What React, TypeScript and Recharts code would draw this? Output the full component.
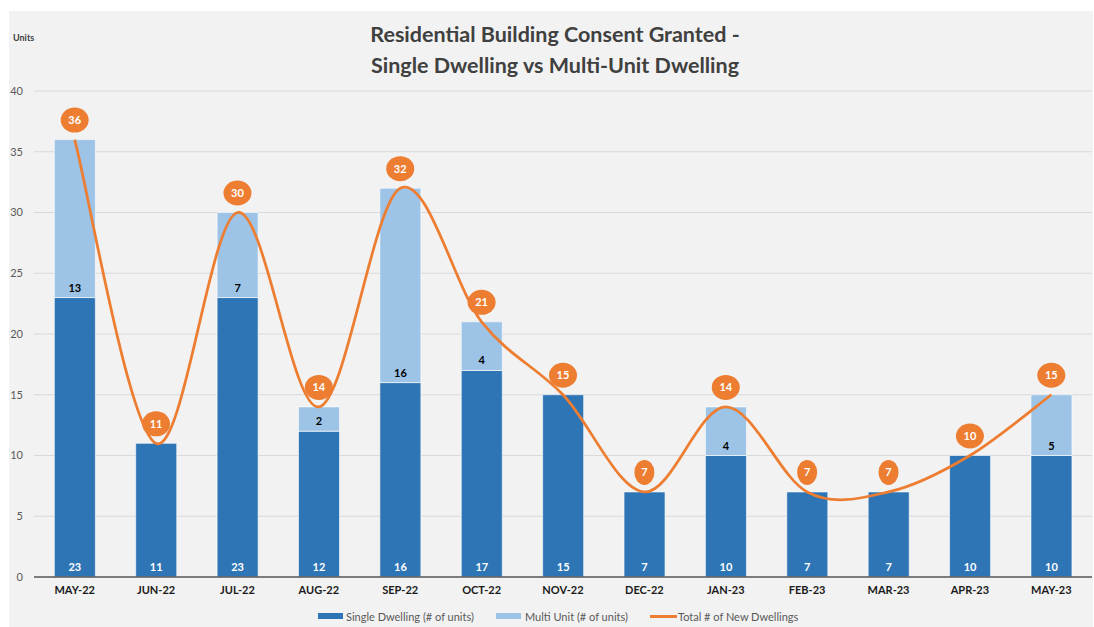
import { ComposedChart, Bar, Line, XAxis, YAxis, CartesianGrid, LabelList, Legend } from 'recharts';

const months = ['MAY-22', 'JUN-22', 'JUL-22', 'AUG-22', 'SEP-22', 'OCT-22', 'NOV-22', 'DEC-22', 'JAN-23', 'FEB-23', 'MAR-23', 'APR-23', 'MAY-23'];
const singleDwelling = [23, 11, 23, 12, 16, 17, 15, 7, 10, 7, 7, 10, 10];
const multiUnit = [13, 0, 7, 2, 16, 4, 0, 0, 4, 0, 0, 0, 5];
const totalDwellings = [36, 11, 30, 14, 32, 21, 15, 7, 14, 7, 7, 10, 15];
const yTicks = [0, 5, 10, 15, 20, 25, 30, 35, 40];

const FONT = 'Lato, "Open Sans", sans-serif';
const DARK = '#2E75B6';
const LIGHT = '#9DC3E6';
const ORANGE = '#ED7D31';

const chartData = months.map((month, i) => ({
  month,
  single: singleDwelling[i],
  multi: multiUnit[i],
  total: totalDwellings[i],
}));

// Catmull-Rom style smoothing, close to what Excel does for "smoothed line"
const smoothCurve: any = (context: any) => {
  let pts: number[][] = [];
  return {
    areaStart() {},
    areaEnd() {},
    lineStart() {
      pts = [];
    },
    point(x: number, y: number) {
      pts.push([+x, +y]);
    },
    lineEnd() {
      if (!pts.length) return;
      context.moveTo(pts[0][0], pts[0][1]);
      for (let i = 0; i < pts.length - 1; i++) {
        const p0 = pts[i - 1] || pts[i];
        const p1 = pts[i];
        const p2 = pts[i + 1];
        const p3 = pts[i + 2] || p2;
        context.bezierCurveTo(
          p1[0] + (p2[0] - p0[0]) / 6,
          p1[1] + (p2[1] - p0[1]) / 6,
          p2[0] - (p3[0] - p1[0]) / 6,
          p2[1] - (p3[1] - p1[1]) / 6,
          p2[0],
          p2[1]
        );
      }
    },
  };
};

function Bubble(props: any) {
  const { x, y, value } = props;
  const text = String(value);
  const rx = text.length > 1 ? 14 : 10;
  const cy = y - 19.5;
  return (
    <g>
      <ellipse cx={x} cy={cy} rx={rx} ry={12.5} fill={ORANGE} />
      <text x={x} y={cy} dy="0.36em" textAnchor="middle" fill="#fff" fontSize={11} fontWeight={700} fontFamily={FONT}>
        {text}
      </text>
    </g>
  );
}

function LegendContent() {
  const item = { position: 'absolute' as const, top: 0, height: 22, display: 'flex', alignItems: 'center' };
  const label = { fontSize: 11, color: '#595959', fontFamily: FONT, whiteSpace: 'nowrap' as const };
  return (
    <div style={{ position: 'relative', width: 1094, height: 22 }}>
      <div style={{ ...item, left: 318 }}>
        <span style={{ width: 25, height: 6, background: DARK, marginRight: 3 }} />
        <span style={label}>Single Dwelling (# of units)</span>
      </div>
      <div style={{ ...item, left: 496 }}>
        <span style={{ width: 25, height: 6, background: LIGHT, marginRight: 4 }} />
        <span style={label}>Multi Unit (# of units)</span>
      </div>
      <div style={{ ...item, left: 650 }}>
        <span style={{ width: 27, height: 3, background: ORANGE, marginRight: 1 }} />
        <span style={label}>Total # of New Dwellings</span>
      </div>
    </div>
  );
}

export default function App() {
  return (
    <div style={{ position: 'relative', width: 1094, height: 627, background: '#fff', fontFamily: FONT }}>
      <style>{'body{margin:0;overflow:hidden}'}</style>
      <div style={{ position: 'absolute', left: 9, top: 11, width: 1084, height: 616, background: '#f2f2f2' }} />
      <div
        style={{
          position: 'absolute',
          left: 0,
          width: 1110,
          top: 19,
          textAlign: 'center',
          fontSize: 21.5,
          fontWeight: 700,
          color: '#404040',
          lineHeight: '31px',
        }}
      >
        Residential Building Consent Granted -
        <br />
        Single Dwelling vs Multi-Unit Dwelling
      </div>
      <div style={{ position: 'absolute', left: 13, top: 32, fontSize: 9, fontWeight: 700, color: '#404040' }}>Units</div>
      <div style={{ position: 'absolute', left: 0, top: 0 }}>
        <ComposedChart
          width={1094}
          height={627}
          data={chartData}
          margin={{ top: 91, right: 2, left: 0, bottom: 0 }}
          barCategoryGap="25%"
        >
          <CartesianGrid vertical={false} stroke="#d9d9d9" strokeWidth={1} />
          <XAxis
            dataKey="month"
            height={28}
            tickSize={0}
            tickMargin={9}
            axisLine={{ stroke: '#595959', strokeWidth: 1.5 }}
            tick={{ fontSize: 11, fontWeight: 700, fill: '#1a1a1a', fontFamily: FONT }}
            interval={0}
          />
          <YAxis
            width={34}
            domain={[0, 40]}
            ticks={yTicks}
            tickSize={0}
            tickMargin={11}
            axisLine={false}
            tick={{ fontSize: 11, fill: '#595959', fontFamily: FONT }}
          />
          <Legend verticalAlign="bottom" height={22} wrapperStyle={{ left: 0, width: 1094 }} content={<LegendContent />} />
          <Bar dataKey="single" name="Single Dwelling (# of units)" stackId="a" fill={DARK} stroke="#ffffff" strokeWidth={0.6} isAnimationActive={false}>
            <LabelList dataKey="single" position="insideBottom" offset={6} fill="#fff" fontSize={11} fontWeight={700} fontFamily={FONT} />
          </Bar>
          <Bar dataKey="multi" name="Multi Unit (# of units)" stackId="a" fill={LIGHT} stroke="#ffffff" strokeWidth={0.6} isAnimationActive={false}>
            <LabelList
              dataKey="multi"
              position="insideBottom"
              offset={6}
              fill="#000"
              fontSize={11}
              fontWeight={700}
              fontFamily={FONT}
              formatter={(v: any) => (v ? v : '')}
            />
          </Bar>
          <Line
            dataKey="total"
            name="Total # of New Dwellings"
            type={smoothCurve}
            stroke={ORANGE}
            strokeWidth={2.75}
            dot={false}
            activeDot={false}
            isAnimationActive={false}
          >
            <LabelList dataKey="total" content={<Bubble />} />
          </Line>
        </ComposedChart>
      </div>
    </div>
  );
}
